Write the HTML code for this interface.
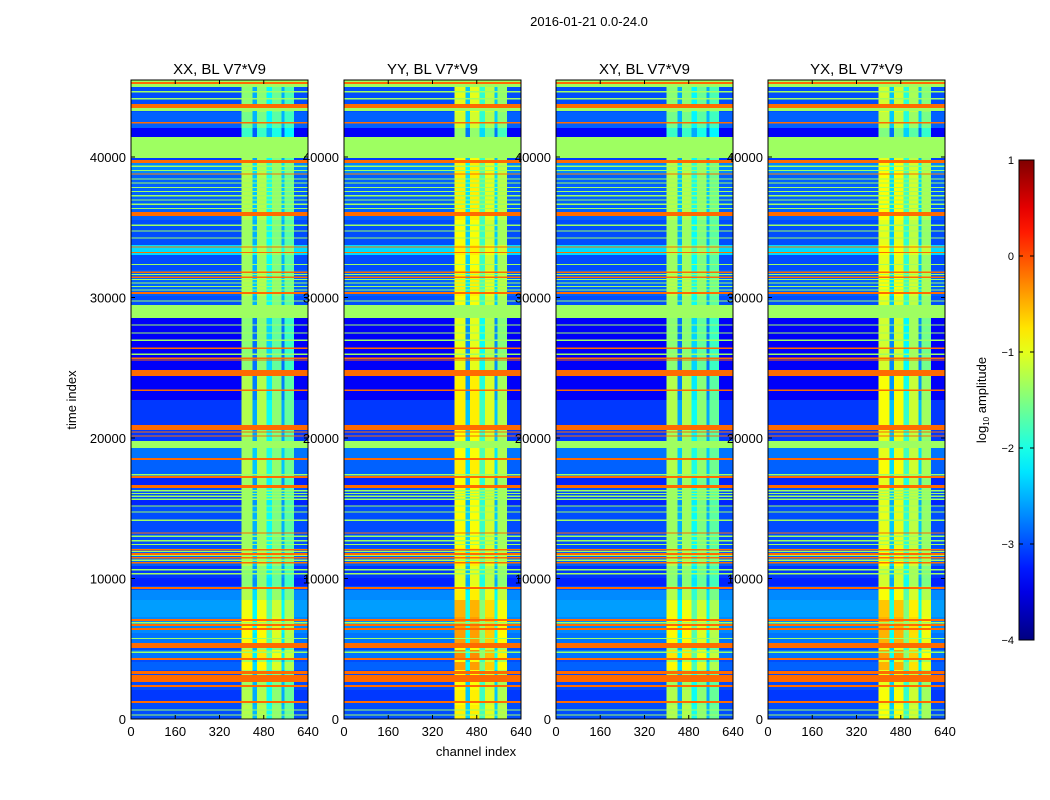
<!DOCTYPE html>
<html><head><meta charset="utf-8"><style>
body{margin:0;background:#fff;}
svg{display:block;font-family:"Liberation Sans",sans-serif;}
</style></head><body>
<svg id="fig" width="1050" height="800" viewBox="0 0 1050 800">
<rect width="1050" height="800" fill="#fff"/>
<text x="589" y="26" font-size="13" text-anchor="middle">2016-01-21 0.0-24.0</text>
<text x="476" y="756" font-size="13" text-anchor="middle">channel index</text>
<text transform="translate(76,400) rotate(-90)" font-size="13" text-anchor="middle">time index</text>
<g id="panels"></g>
<g id="cbar"></g>
</svg>
<script>
const panelTitles = ["XX, BL V7*V9","YY, BL V7*V9","XY, BL V7*V9","YX, BL V7*V9"];
const panelShift = [0, 0.45, 0, 0.35];
const xTicks = [0,160,320,480,640];
const yTicks = [0,10000,20000,30000,40000];
const cbTicks = [1,0,-1,-2,-3,-4];
const chanEdges = [0,400,440,455,490,510,545,555,590,640];
const chanWeight = [0,1,0.3,1,0.55,0.9,0.3,0.8,0];
const O = -0.15, G = -1.35;
// [tStart, tEnd, background log amp, bright-channel log amp]
const bands = [
[0,45480,-3.0,-1.35],
[0,1000,-3.0,-1.25],[250,330,G,G],[600,690,G,G],[1140,1280,O,O],
[1280,2060,-3.1,-1.25],[2280,2420,O,O],[2630,3130,O,O],[3200,3420,O,O],
[3490,4060,-2.9,-0.85],[4200,4340,O,O],[4340,4910,-2.8,-0.75],[4700,4800,G,G],[5050,5400,O,O],
[5400,6120,-2.8,-0.85],[5700,5780,G,G],[6120,7260,-2.7,-0.85],[6340,6470,O,O],[6620,6760,O,O],[6800,6900,G,G],[6980,7120,O,O],
[7260,8470,-2.6,-0.95],[8470,9180,-2.7,-1.25],[9250,9390,O,O],[9460,10030,-3.2,-1.45],[10030,10890,-3.1,-1.45],[10280,10380,G,G],[10560,10660,G,G],
[10890,12170,-2.9,-1.25],[11050,11160,O,O],[11250,11350,G,G],[11410,11520,O,O],[11600,11680,G,G],[11690,11800,O,O],[11880,11950,G,G],[11980,12090,O,O],
[12380,12460,G,G],[12650,12730,G,G],[12950,13050,G,G],[13190,13290,O,O],
[13450,15160,-3.0,-1.35],[14110,14200,G,G],[14680,14770,G,G],[15110,15200,G,G],[15200,15590,-3.2,-1.35],
[15600,15700,G,G],[15800,15900,G,G],[16000,16100,G,G],[16200,16300,G,G],[16440,16650,O,O],[16650,17150,-3.2,-1.35],[17150,17300,O,O],[17330,17420,G,G],
[17420,18430,-2.9,-1.25],[18430,18570,O,O],[18570,19290,-2.8,-1.35],[19290,19790,G,G],[19790,20570,-3.1,-1.35],[20090,20190,O,O],[20380,20480,O,O],[20570,20920,O,O],
[20920,22700,-3.1,-1.25],[22700,24410,-3.4,-1.25],[23360,23460,O,O],[24410,24840,O,O],
[24840,28540,-3.4,-1.45],[25500,25600,O,O],[25640,25740,O,O],[25900,26000,G,G],[26350,26450,O,O],[26900,27000,G,G],[27420,27520,G,G],[28000,28080,G,G],
[28540,29460,G,G],[29460,30100,-3.0,-1.35],[29700,29780,G,G],
[30100,31950,-2.9,-1.25],[30250,30390,O,O],[30500,30580,G,G],[30750,30830,G,G],[31000,31080,G,G],[31250,31330,G,G],[31400,31500,O,O],[31600,31680,G,G],[31760,31860,O,O],
[31950,33020,-3.0,-1.35],[32300,32380,G,G],[33020,33730,-2.3,-1.25],[33150,33230,O,O],[33550,33640,O,O],
[33730,35510,-3.0,-1.35],[34200,34280,G,G],[34700,34780,G,G],[35100,35180,G,G],[35510,35800,-2.9,-1.25],[35800,36080,O,O],
[36080,38720,-2.9,-1.25],[36300,36380,G,G],[36600,36680,G,G],[36900,36980,G,G],[37200,37280,G,G],[37500,37580,G,G],[37800,37880,G,G],[38100,38180,G,G],[38400,38480,G,G],
[38720,39570,-2.7,-1.25],[38740,38840,O,O],[39000,39080,G,G],[39300,39380,G,G],[39570,39780,O,O],[39780,39930,-3.1,-1.35],[39930,41420,G,G],
[41420,42060,-3.4,-1.85],[42060,43200,-2.9,-1.55],[42400,42480,O,O],[43270,43480,G,G],[43480,43770,O,O],
[43770,44980,-3.0,-1.45],[44100,44200,G,G],[44600,44700,G,G],[44980,45480,G,G],[45200,45340,O,O]
];
const NS="http://www.w3.org/2000/svg";
function jet(v){let n=Math.max(0,Math.min(1,(v+4)/5));
 const c=x=>Math.round(255*Math.max(0,Math.min(1,x)));
 return `rgb(${c(1.5-Math.abs(4*n-3))},${c(1.5-Math.abs(4*n-2))},${c(1.5-Math.abs(4*n-1))})`;}
function mk(tag,attrs,parent){const e=document.createElementNS(NS,tag);for(const k in attrs)e.setAttribute(k,attrs[k]);parent.appendChild(e);return e;}
const panelX=[131,344,556,768], PW=177, PT=80, PB=719, TMAX=45480;
const yS=t=>PB-t/TMAX*(PB-PT);
const panelsG=document.getElementById('panels');
panelTitles.forEach((title,p)=>{
 const x0=panelX[p]; const xS=c=>x0+c/640*PW;
 const g=mk('g',{},panelsG);
 
 
 const hm=mk('g',{'shape-rendering':'crispEdges'},g);
 
 
 bands.forEach(b=>{
  const flag=b[2]===b[3];
  const y1=yS(b[1]), y0=yS(b[0]);
  for(let i=0;i<chanWeight.length;i++){
   const w=chanWeight[i];
   const v=flag?b[2]:b[2]+w*(b[3]-b[2])+w*panelShift[p];
   const r=mk('rect',{x:xS(chanEdges[i]),y:y1,width:xS(chanEdges[i+1])-xS(chanEdges[i]),height:Math.max(1,y0-y1),fill:jet(v)},hm);
   
   
  }
 });
 const fr=mk('rect',{x:x0,y:PT,width:PW,height:PB-PT,fill:'none',stroke:'#000','stroke-width':1},g);
 
 
 const tt=mk('text',{x:x0+PW/2,y:74,'font-size':15,'text-anchor':'middle'},g);tt.textContent=title;
 
 
 xTicks.forEach(v=>{const x=xS(v);
  mk('line',{x1:x,x2:x,y1:PB,y2:PB-4,stroke:'#000'},g);mk('line',{x1:x,x2:x,y1:PT,y2:PT+4,stroke:'#000'},g);
  const t=mk('text',{x:x,y:736,'font-size':13,'text-anchor':'middle'},g);t.textContent=v;
  
  });
 yTicks.forEach(v=>{const y=yS(v);
  mk('line',{x1:x0,x2:x0+4,y1:y,y2:y,stroke:'#000'},g);mk('line',{x1:x0+PW,x2:x0+PW-4,y1:y,y2:y,stroke:'#000'},g);
  const t=mk('text',{x:x0-5,y:y+5,'font-size':13,'text-anchor':'end'},g);t.textContent=v;
  
  });
});
// colorbar
const cb=document.getElementById('cbar');


const CT=160,CB=640,CX=1019,CW=15;
const defs=mk('defs',{},cb);const lg=mk('linearGradient',{id:'jetg',x1:0,y1:1,x2:0,y2:0},defs);
for(let i=0;i<=20;i++){mk('stop',{offset:i/20,'stop-color':jet(-4+5*i/20)},lg);}
mk('rect',{x:CX,y:CT,width:CW,height:CB-CT,fill:'url(#jetg)',stroke:'#000'},cb);
const cS=v=>CB-(v+4)/5*(CB-CT);
cbTicks.forEach(v=>{const y=cS(v);
 mk('line',{x1:CX,x2:CX+4,y1:y,y2:y,stroke:'#000'},cb);mk('line',{x1:CX+CW,x2:CX+CW-4,y1:y,y2:y,stroke:'#000'},cb);
 const t=mk('text',{x:1014,y:y+4,'font-size':11,'text-anchor':'end'},cb);t.textContent=v<0?'\u2212'+(-v):v;
 
 });
const cl=mk('text',{transform:'translate(986,400) rotate(-90)','font-size':13,'text-anchor':'middle'},cb);
cl.innerHTML='log<tspan font-size="8" dy="3">10</tspan><tspan dy="-3"> amplitude</tspan>';


</script>
</body></html>
